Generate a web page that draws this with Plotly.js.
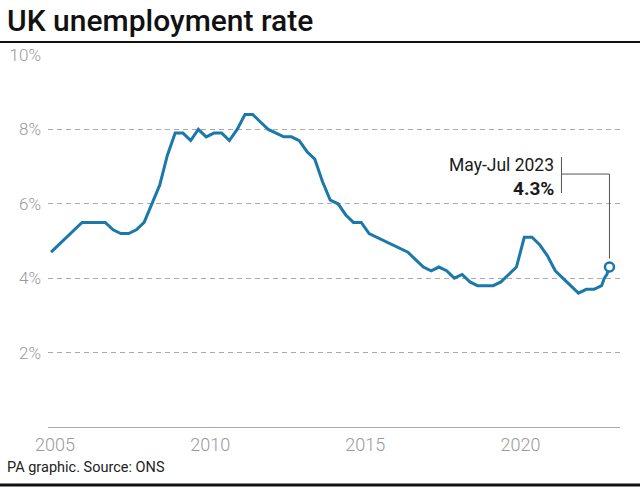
<!DOCTYPE html>
<html>
<head>
<meta charset="utf-8">
<script src="https://cdn.plot.ly/plotly-3.0.1.min.js"></script>
<style>
  html, body { margin: 0; padding: 0; background: #ffffff; }
  #chart { width: 640px; height: 488px; }
</style>
</head>
<body>
<div id="chart"></div>
<script>
// Period mid-points (quarterly, then monthly rolling periods for 2023)
const periods = [
  "2005-06-15","2005-09-15","2005-12-15",
  "2006-03-15","2006-06-15","2006-09-15","2006-12-15",
  "2007-03-15","2007-06-15","2007-09-15","2007-12-15",
  "2008-03-15","2008-06-15","2008-09-15","2008-12-15",
  "2009-03-15","2009-06-15","2009-09-15","2009-12-15",
  "2010-03-15","2010-06-15","2010-09-15","2010-12-15",
  "2011-03-15","2011-06-15","2011-09-15","2011-12-15",
  "2012-03-15","2012-06-15","2012-09-15","2012-12-15",
  "2013-03-15","2013-06-15","2013-09-15","2013-12-15",
  "2014-03-15","2014-06-15","2014-09-15","2014-12-15",
  "2015-03-15","2015-06-15","2015-09-15","2015-12-15",
  "2016-03-15","2016-06-15","2016-09-15","2016-12-15",
  "2017-03-15","2017-06-15","2017-09-15","2017-12-15",
  "2018-03-15","2018-06-15","2018-09-15","2018-12-15",
  "2019-03-15","2019-06-15","2019-09-15","2019-12-15",
  "2020-03-15","2020-06-15","2020-09-15","2020-12-15",
  "2021-03-15","2021-06-15","2021-09-15","2021-12-15",
  "2022-03-15","2022-06-15","2022-09-15","2022-12-15",
  "2023-03-15","2023-04-15","2023-05-15","2023-06-15"
];

// Unemployment rate, %
const rates = [
  4.7, 4.9, 5.1,
  5.3, 5.5, 5.5, 5.5,
  5.5, 5.3, 5.2, 5.2,
  5.3, 5.5, 6.0, 6.5,
  7.3, 7.9, 7.9, 7.7,
  8.0, 7.8, 7.9, 7.9,
  7.7, 8.0, 8.4, 8.4,
  8.2, 8.0, 7.9, 7.8,
  7.8, 7.7, 7.4, 7.2,
  6.6, 6.1, 6.0, 5.7,
  5.5, 5.5, 5.2, 5.1,
  5.0, 4.9, 4.8, 4.7,
  4.5, 4.3, 4.2, 4.3,
  4.2, 4.0, 4.1, 3.9,
  3.8, 3.8, 3.8, 3.9,
  4.1, 4.3, 5.1, 5.1,
  4.9, 4.6, 4.2, 4.0,
  3.8, 3.6, 3.7, 3.7,
  3.8, 4.0, 4.1, 4.3
];

const xTickYears = ["2005", "2010", "2015", "2020"];
const yTickValues = [2, 4, 6, 8, 10];
const yTickLabels = ["2%", "4%", "6%", "8%", "10%"];
const latestLabel = "May-Jul 2023";

const W = 640, H = 488;
const M = { l: 48, r: 20, t: 55, b: 61 };
const plotW = W - M.l - M.r;
const plotH = H - M.t - M.b;
const px2paperX = p => (p - M.l) / plotW;
const px2paperY = p => (H - M.b - p) / plotH;

const lineColor = "#1b78ab";
const lastX = periods[periods.length - 1];
const lastY = rates[rates.length - 1];

const traces = [
  {
    x: periods, y: rates, type: "scatter", mode: "lines",
    line: { color: lineColor, width: 3, shape: "linear" },
    hoverinfo: "skip"
  },
  {
    x: [lastX], y: [lastY], type: "scatter", mode: "markers",
    marker: { size: 9, color: "#ffffff", line: { color: lineColor, width: 2.5 } },
    hoverinfo: "skip"
  }
];

const tickFont = { family: "Roboto, 'Liberation Sans', sans-serif", size: 17, color: "#9a9a9a", weight: 300 };

const layout = {
  width: W, height: H,
  margin: M,
  paper_bgcolor: "#ffffff",
  plot_bgcolor: "#ffffff",
  showlegend: false,
  title: {
    text: "UK unemployment rate",
    font: { family: "Roboto, 'Liberation Sans', sans-serif", size: 30, weight: 500, color: "#111111" },
    xref: "container", x: 7 / W, xanchor: "left",
    yref: "container", y: 1 - 20 / H, yanchor: "middle"
  },
  xaxis: {
    type: "date",
    range: ["2005-05-10", "2023-10-17"],
    tickvals: xTickYears.map(y => y + "-08-01"),
    ticktext: xTickYears,
    showgrid: false,
    zeroline: false,
    showline: true, linecolor: "#aaaaaa", linewidth: 1,
    ticks: "",
    ticklabelstandoff: 1,
    tickfont: Object.assign({}, tickFont, { size: 18 }),
    fixedrange: true
  },
  yaxis: {
    range: [0, 10],
    tickvals: yTickValues,
    ticktext: yTickLabels,
    showgrid: true, gridcolor: "#aaaaaa", gridwidth: 1, griddash: "5px,4px",
    zeroline: false, showline: false,
    ticks: "",
    ticklabelstandoff: 6,
    tickfont: tickFont,
    fixedrange: true
  },
  shapes: [
    { type: "line", xref: "paper", yref: "paper",
      x0: px2paperX(0), x1: px2paperX(W), y0: px2paperY(42), y1: px2paperY(42),
      line: { color: "#111111", width: 2 } },
    { type: "line", xref: "paper", yref: "paper",
      x0: px2paperX(0), x1: px2paperX(W), y0: px2paperY(485), y1: px2paperY(485),
      line: { color: "#111111", width: 3 } },
    { type: "path", xref: "x", yref: "y",
      xsizemode: "pixel", ysizemode: "pixel",
      xanchor: lastX, yanchor: lastY,
      path: "M -48 110 L -48 74 M -48 93 L 0 93 L 0 8.5",
      line: { color: "#555555", width: 1 } }
  ],
  annotations: [
    { xref: "x", yref: "y", x: lastX, y: lastY, showarrow: false,
      xanchor: "right", yanchor: "middle", xshift: -53, yshift: 102,
      text: latestLabel,
      font: { family: "Roboto, 'Liberation Sans', sans-serif", size: 17.5, color: "#1a1a1a" } },
    { xref: "x", yref: "y", x: lastX, y: lastY, showarrow: false,
      xanchor: "right", yanchor: "middle", xshift: -53, yshift: 79,
      text: "<b>" + lastY.toFixed(1) + "%</b>",
      font: { family: "Roboto, 'Liberation Sans', sans-serif", size: 19, color: "#1a1a1a" } },
    { xref: "paper", yref: "paper", x: px2paperX(5), y: px2paperY(468),
      xanchor: "left", yanchor: "middle", showarrow: false,
      text: "PA graphic. Source: ONS",
      font: { family: "Roboto, 'Liberation Sans', sans-serif", size: 14.5, color: "#222222" } }
  ]
};

Plotly.newPlot("chart", traces, layout, { staticPlot: true, displayModeBar: false });
</script>
</body>
</html>
